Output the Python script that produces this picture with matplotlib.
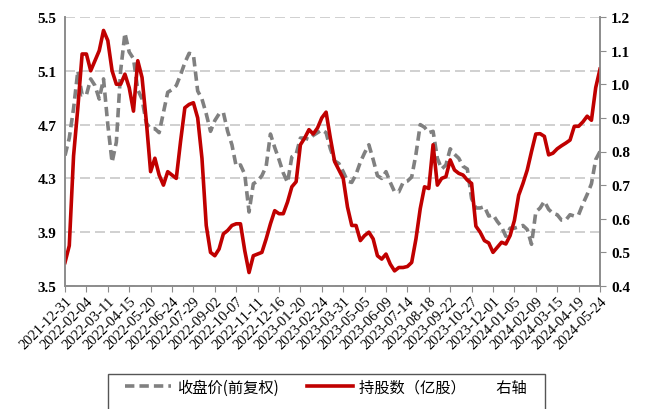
import matplotlib
matplotlib.use('Agg')
import matplotlib.pyplot as plt
import numpy as np
import pandas as pd
from matplotlib.patches import Rectangle

plt.rcParams['font.family'] = ['Liberation Serif', 'Noto Sans CJK SC', 'DejaVu Sans']

# weekly dates (Fridays)
dates = pd.date_range('2021-12-31', '2024-05-24', freq='7D')

# close price (left axis)
price = [4.47, 4.60, 4.82, 5.10, 4.92, 4.92, 5.04, 4.99, 4.89, 5.04,
         4.70, 4.42, 4.57, 5.10, 5.38, 5.24, 5.19, 4.96, 4.89, 4.71,
         4.67, 4.67, 4.64, 4.79, 4.94, 4.96, 4.99, 5.07, 5.16, 5.23,
         5.22, 4.95, 4.89, 4.78, 4.65, 4.73, 4.78, 4.79, 4.65, 4.55,
         4.39, 4.40, 4.33, 4.05, 4.26, 4.28, 4.32, 4.39, 4.63, 4.53,
         4.44, 4.34, 4.27, 4.46, 4.48, 4.60, 4.60, 4.59, 4.62, 4.64,
         4.66, 4.64, 4.52, 4.43, 4.41, 4.35, 4.28, 4.27, 4.33, 4.42,
         4.49, 4.55, 4.44, 4.32, 4.30, 4.35, 4.27, 4.20, 4.20, 4.27,
         4.28, 4.31, 4.48, 4.70, 4.68, 4.64, 4.65, 4.45, 4.37, 4.40,
         4.52, 4.48, 4.45, 4.39, 4.37, 4.15, 4.08, 4.08, 4.09, 4.02,
         4.03, 3.98, 3.94, 3.87, 3.93, 3.93, 3.94, 3.95, 3.92, 3.81,
         4.05, 4.08, 4.13, 4.07, 4.04, 4.03, 3.99, 3.99, 4.03, 4.02,
         4.03, 4.11, 4.18, 4.26, 4.44, 4.50]

# shares held, 100 million (right axis)
shares = [0.47, 0.52, 0.787, 0.93, 1.09, 1.09, 1.04, 1.07, 1.10, 1.16,
          1.13, 1.04, 1.00, 1.00, 1.03, 0.99, 0.92, 1.07, 1.02, 0.89,
          0.74, 0.78, 0.73, 0.70, 0.74, 0.73, 0.72, 0.83, 0.93, 0.94,
          0.945, 0.90, 0.78, 0.58, 0.50, 0.49, 0.51, 0.555, 0.565, 0.58,
          0.585, 0.585, 0.505, 0.44, 0.49, 0.495, 0.50, 0.54, 0.585, 0.624,
          0.615, 0.615, 0.65, 0.695, 0.71, 0.82, 0.84, 0.865, 0.852, 0.87,
          0.90, 0.917, 0.84, 0.77, 0.745, 0.72, 0.635, 0.58, 0.58, 0.535,
          0.55, 0.56, 0.54, 0.49, 0.48, 0.495, 0.465, 0.445, 0.455, 0.455,
          0.458, 0.47, 0.54, 0.63, 0.695, 0.69, 0.82, 0.70, 0.72, 0.725,
          0.775, 0.745, 0.735, 0.73, 0.715, 0.705, 0.578, 0.56, 0.535, 0.528,
          0.50, 0.515, 0.53, 0.525, 0.55, 0.595, 0.67, 0.705, 0.745, 0.80,
          0.852, 0.853, 0.845, 0.79, 0.795, 0.808, 0.817, 0.825, 0.834, 0.875,
          0.875, 0.888, 0.905, 0.893, 0.99, 1.045]

left_ticks = [3.5, 3.9, 4.3, 4.7, 5.1, 5.5]
right_ticks = [0.4, 0.5, 0.6, 0.7, 0.8, 0.9, 1.0, 1.1, 1.2]

fig = plt.figure(figsize=(6.48, 4.10), dpi=100)
ax = fig.add_axes([65/648, 1-287/410, 535/648, 269/410])
ax2 = ax.twinx()

spine_c = '#8c8c8c'

ax.plot(dates, price, color='#808080', lw=2.6, ls=(0, (2.6, 1.4)), label='收盘价(前复权)')
ax2.plot(dates, shares, color='#C00000', lw=2.6, label='持股数（亿股）\u3000\u3000右轴')

ax.set_xlim(dates[0], dates[-1])
ax.set_ylim(3.5, 5.5)
ax2.set_ylim(0.4, 1.2)

ax.set_yticks(left_ticks)
ax.set_yticklabels(['%.1f' % v for v in left_ticks], fontweight='bold', fontsize=11)
ax2.set_yticks(right_ticks)
ax2.set_yticklabels(['%.1f' % v for v in right_ticks], fontweight='bold', fontsize=11)

ax.yaxis.grid(True, color='#c8c8c8', ls=(0, (6, 3)), lw=1.2)
ax.set_axisbelow(True)

ticks = dates[::5]
ax.set_xticks(ticks)
ax.set_xticklabels([d.strftime('%Y-%m-%d') for d in ticks], rotation=45,
                   ha='right', rotation_mode='anchor', fontsize=10.5)

ax.tick_params(axis='y', length=0, pad=6)
ax.tick_params(axis='x', length=4, color=spine_c, pad=2)
ax2.tick_params(axis='y', length=4, color=spine_c, pad=4)

for a in (ax, ax2):
    a.spines['top'].set_visible(False)
    for s in ('left', 'right', 'bottom'):
        a.spines[s].set_color(spine_c)
        a.spines[s].set_linewidth(1.2)

h1, l1 = ax.get_legend_handles_labels()
h2, l2 = ax2.get_legend_handles_labels()
fig.legend(h1 + h2, l1 + l2, loc='center', bbox_to_anchor=(0.503, 1-388/410),
           ncol=2, frameon=False, handlelength=3.0, handletextpad=0.4,
           columnspacing=1.8, prop={'family': ['Noto Sans CJK SC'], 'size': 11})
fig.patches.append(Rectangle((108/648, -0.02), 437/648, 0.02 + (410-375)/410,
                             transform=fig.transFigure, fill=False,
                             edgecolor='#555555', lw=1.0))

fig.savefig('out.png', dpi=100)
